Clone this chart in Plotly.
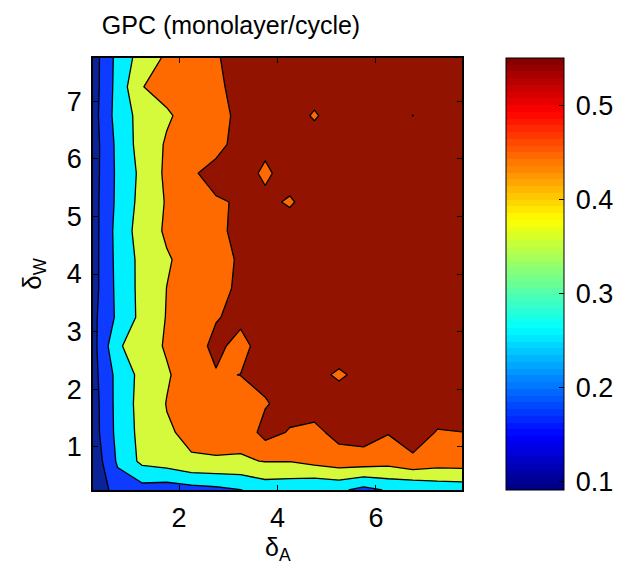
import plotly.graph_objects as go

# grid coordinates (delta_A on x, delta_W on y)
delta_A = [0.25, 0.75, 1.25, 1.75, 2.25, 2.75, 3.25, 3.75, 4.25, 4.75, 5.25, 5.75, 6.25, 6.75, 7.25, 7.75]
delta_W = [0.25, 0.75, 1.25, 1.75, 2.25, 2.75, 3.25, 3.75, 4.25, 4.75, 5.25, 5.75, 6.25, 6.75, 7.25, 7.75]

# GPC values, one row per delta_W (bottom to top)
gpc_w025 = [0.010, 0.150, 0.160, 0.145, 0.160, 0.175, 0.197, 0.241, 0.233, 0.210, 0.220, 0.169, 0.210, 0.205, 0.233, 0.240]
gpc_w075 = [0.030, 0.214, 0.324, 0.349, 0.393, 0.395, 0.391, 0.403, 0.403, 0.430, 0.455, 0.455, 0.440, 0.480, 0.450, 0.453]
gpc_w125 = [0.054, 0.229, 0.332, 0.392, 0.415, 0.420, 0.425, 0.537, 0.492, 0.475, 0.531, 0.545, 0.505, 0.550, 0.494, 0.499]
gpc_w175 = [0.056, 0.232, 0.338, 0.403, 0.425, 0.447, 0.469, 0.4915, 0.539, 0.545, 0.537, 0.543, 0.547, 0.544, 0.548, 0.546]
gpc_w225 = [0.066, 0.231, 0.331, 0.391, 0.443, 0.494, 0.501, 0.530, 0.535, 0.520, 0.490, 0.520, 0.541, 0.546, 0.543, 0.548]
gpc_w275 = [0.065, 0.285, 0.360, 0.409, 0.463, 0.520, 0.472, 0.542, 0.545, 0.540, 0.537, 0.544, 0.547, 0.545, 0.548, 0.546]
gpc_w325 = [0.075, 0.219, 0.329, 0.4045, 0.450, 0.495, 0.520, 0.540, 0.538, 0.545, 0.543, 0.540, 0.546, 0.549, 0.544, 0.547]
gpc_w375 = [0.062, 0.226, 0.330, 0.401, 0.438, 0.476, 0.514, 0.537, 0.541, 0.544, 0.540, 0.546, 0.548, 0.543, 0.547, 0.550]
gpc_w425 = [0.061, 0.230, 0.329, 0.391, 0.433, 0.471, 0.510, 0.535, 0.540, 0.545, 0.542, 0.547, 0.544, 0.549, 0.546, 0.548]
gpc_w475 = [0.058, 0.235, 0.346, 0.414, 0.449, 0.484, 0.519, 0.538, 0.542, 0.539, 0.545, 0.543, 0.548, 0.546, 0.544, 0.549]
gpc_w525 = [0.061, 0.223, 0.333, 0.408, 0.449, 0.490, 0.509, 0.520, 0.490, 0.540, 0.543, 0.547, 0.544, 0.546, 0.549, 0.545]
gpc_w575 = [0.057, 0.221, 0.325, 0.419, 0.487, 0.535, 0.537, 0.485, 0.537, 0.542, 0.545, 0.540, 0.546, 0.548, 0.544, 0.547]
gpc_w625 = [0.054, 0.225, 0.342, 0.410, 0.438, 0.467, 0.540, 0.520, 0.535, 0.541, 0.538, 0.544, 0.547, 0.545, 0.543, 0.548]
gpc_w675 = [0.060, 0.241, 0.337, 0.389, 0.433, 0.475, 0.517, 0.530, 0.540, 0.491, 0.542, 0.545, 0.548, 0.499, 0.546, 0.550]
gpc_w725 = [0.054, 0.236, 0.398, 0.429, 0.459, 0.489, 0.519, 0.536, 0.541, 0.538, 0.544, 0.547, 0.545, 0.542, 0.548, 0.546]
gpc_w775 = [0.053, 0.231, 0.344, 0.416, 0.455, 0.493, 0.532, 0.540, 0.545, 0.543, 0.548, 0.546, 0.549, 0.547, 0.550, 0.548]

gpc = [gpc_w025, gpc_w075, gpc_w125, gpc_w175, gpc_w225, gpc_w275, gpc_w325, gpc_w375,
       gpc_w425, gpc_w475, gpc_w525, gpc_w575, gpc_w625, gpc_w675, gpc_w725, gpc_w775]

x_ticks = [2, 4, 6]
y_ticks = [1, 2, 3, 4, 5, 6, 7]
cbar_ticks = [0.1, 0.2, 0.3, 0.4, 0.5]
cbar_min, cbar_max = 0.091, 0.55

# filled band colours (below 0.1, 0.1-0.2, ..., above 0.5)
band_colors = ["#0a2399", "#0d3bff", "#00f0ff", "#d5fa3b", "#ff6a00", "#921300"]
nb = len(band_colors)
band_scale = []
for k, c in enumerate(band_colors):
    lo = 0 if k == 0 else (k - 0.5) / (nb - 1)
    hi = 1 if k == nb - 1 else (k + 0.5) / (nb - 1)
    band_scale += [[lo, c], [hi, c]]


def jet(t):
    def cl(v):
        return max(0.0, min(1.0, v))
    r = cl(1.5 - abs(4 * t - 3))
    g = cl(1.5 - abs(4 * t - 2))
    b = cl(1.5 - abs(4 * t - 1))
    return "rgb(%d,%d,%d)" % (round(r * 255), round(g * 255), round(b * 255))


n_jet = 64
jet_scale = []
for i in range(n_jet):
    c = jet((i + 0.5) / n_jet)
    jet_scale += [[i / n_jet, c], [(i + 1) / n_jet, c]]

font_family = "Liberation Sans, Arial, Helvetica, sans-serif"
tick_size = 27

fig = go.Figure()
fig.add_trace(go.Contour(
    x=delta_A, y=delta_W, z=gpc,
    contours=dict(start=0.1, end=0.5, size=0.1, coloring="fill", showlines=True),
    line=dict(color="black", width=1.3, smoothing=0),
    colorscale=band_scale, showscale=False, hoverinfo="skip",
))
fig.add_trace(go.Scatter(
    x=[None], y=[None], mode="markers", hoverinfo="skip", showlegend=False,
    marker=dict(color=[0.3], colorscale=jet_scale, cmin=cbar_min, cmax=cbar_max,
                showscale=True,
                colorbar=dict(x=1.118, xanchor="left", xref="paper", y=0.5, yanchor="middle",
                              len=1, lenmode="fraction", thickness=58, thicknessmode="pixels",
                              outlinewidth=1, outlinecolor="black", xpad=0, ypad=0,
                              tickvals=cbar_ticks,
                              ticktext=["\u2009%.1f" % v for v in cbar_ticks],
                              ticks="inside", ticklen=5, tickcolor="black",
                              tickfont=dict(size=tick_size, color="black", family=font_family))),
))

axis_common = dict(showline=True, linecolor="black", linewidth=1.5, mirror="ticks",
                   ticks="inside", ticklen=5, tickcolor="black", showgrid=False, zeroline=False,
                   automargin=False,
                   tickfont=dict(size=tick_size, color="black", family=font_family))

fig.update_xaxes(range=[0.25, 7.75], tickvals=x_ticks, ticktext=[str(v) for v in x_ticks],
                 ticklabelstandoff=3, **axis_common)
fig.update_yaxes(range=[0.25, 7.75], tickvals=y_ticks, ticktext=[str(v) for v in y_ticks],
                 ticklabelstandoff=4,
                 title=dict(text="δ<sub>W</sub>", font=dict(size=26, color="black", family=font_family),
                            standoff=18),
                 **axis_common)

# x-axis label placed as an annotation just below the tick labels
fig.add_annotation(text="δ<sub>A</sub>", xref="paper", yref="paper", x=0.5, y=-0.136,
                   xanchor="center", yanchor="middle", showarrow=False, borderpad=0,
                   font=dict(size=25, color="black", family=font_family))

# the page body adds an 8px offset, so margins are shifted accordingly
fig.update_layout(
    width=627, height=565,
    margin=dict(l=84.5, r=173, t=49.5, b=83, autoexpand=False),
    paper_bgcolor="white", plot_bgcolor="white",
    title=dict(text="GPC (monolayer/cycle)", x=223 / 627, xanchor="center", xref="container",
               y=1 - 17 / 565, yanchor="middle", yref="container",
               font=dict(size=25, color="black", family=font_family)),
    showlegend=False,
)

fig.write_html("out.html")
